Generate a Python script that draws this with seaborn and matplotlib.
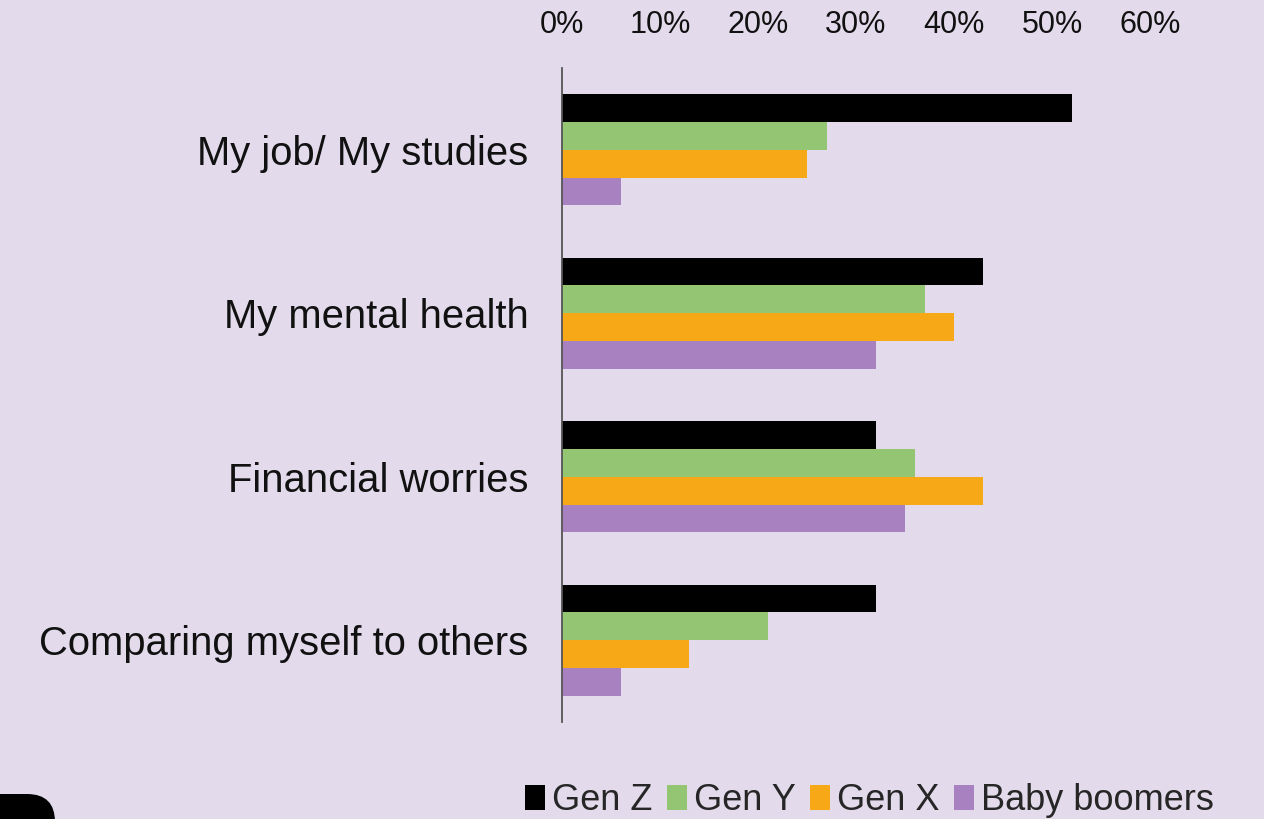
import matplotlib
matplotlib.use("Agg")
import matplotlib.pyplot as plt
from matplotlib.patches import FancyBboxPatch
from matplotlib.ticker import PercentFormatter
import seaborn as sns
import pandas as pd

# Survey results: share of respondents per generation
categories = ["My job/ My studies", "My mental health", "Financial worries",
              "Comparing myself to others"]
generations = ["Gen Z", "Gen Y", "Gen X", "Baby boomers"]
gen_z = [52, 43, 32, 32]
gen_y = [27, 37, 36, 21]
gen_x = [25, 40, 43, 13]
boomers = [6, 32, 35, 6]
x_ticks = [0, 10, 20, 30, 40, 50, 60]

colors = ["#000000", "#93C572", "#F7A817", "#A882C0"]
bg = "#E3DBEC"

rows = []
for gen, vals in zip(generations, [gen_z, gen_y, gen_x, boomers]):
    for cat, v in zip(categories, vals):
        rows.append({"category": cat, "generation": gen, "value": v})
df = pd.DataFrame(rows)

sns.set_style("white")
plt.rcParams["font.family"] = ["Liberation Sans", "DejaVu Sans"]

fig = plt.figure(figsize=(12.64, 8.19), dpi=100, facecolor=bg)
ax = fig.add_axes([0.4446, 0.1184, 0.4652, 0.7986])
ax.set_facecolor(bg)

sns.barplot(data=df, y="category", x="value", hue="generation",
            order=categories, hue_order=generations, palette=colors,
            orient="h", width=0.68, saturation=1, gap=0, ax=ax,
            edgecolor="none", linewidth=0)

ax.set_xlim(0, 60)
ax.set_ylim(3.5, -0.5)
ax.set_xticks(x_ticks)
ax.xaxis.set_major_formatter(PercentFormatter(decimals=0))
ax.xaxis.tick_top()
ax.tick_params(axis="x", length=0, labelsize=22, pad=20, colors="#111111")
ax.tick_params(axis="y", length=0, labelsize=28.8, pad=24, colors="#111111")
ax.set_xlabel("")
ax.set_ylabel("")
for side in ["top", "right", "bottom"]:
    ax.spines[side].set_visible(False)
ax.spines["left"].set_color("#555555")
ax.spines["left"].set_linewidth(1.3)

ax.legend_.remove()
handles, labels = ax.get_legend_handles_labels()
fig.legend(handles, labels, loc="center", bbox_to_anchor=(0.688, 0.022),
           ncol=4, frameon=False, fontsize=26, handlelength=0.55,
           handleheight=0.7, handletextpad=0.2, columnspacing=0.4,
           borderaxespad=0)

# dark rounded shape at the lower-left corner
fig.patches.append(FancyBboxPatch((-40, -30), 95, 55, boxstyle="round,pad=0,rounding_size=28",
                                  transform=None, facecolor="black",
                                  edgecolor="none", figure=fig))

fig.savefig("out.png", dpi=100, facecolor=bg)
